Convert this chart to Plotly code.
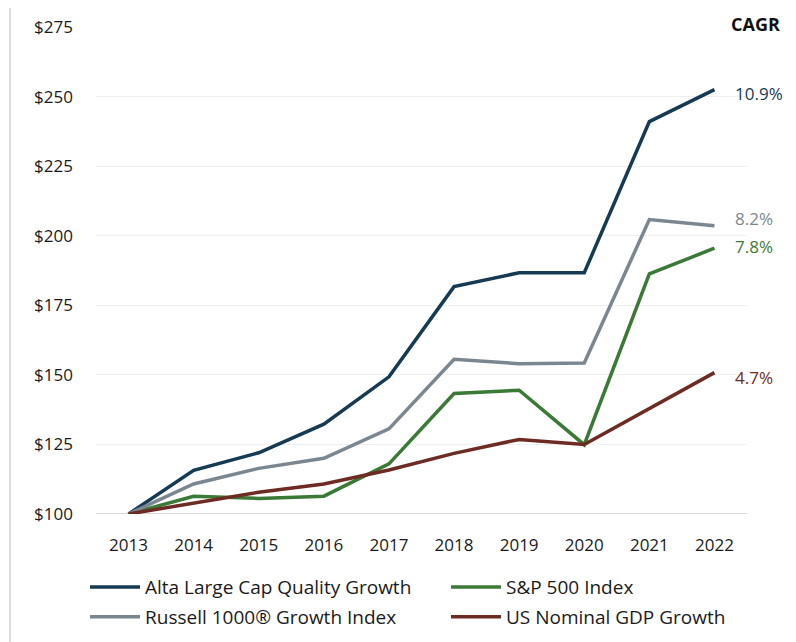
import plotly.graph_objects as go

years = ["2013", "2014", "2015", "2016", "2017", "2018", "2019", "2020", "2021", "2022"]
alta = [100, 115.7, 122.0, 132.3, 149.3, 181.7, 186.7, 186.7, 241.0, 252.5]
russell = [100, 110.8, 116.4, 120.0, 130.6, 155.6, 154.0, 154.3, 205.8, 203.6]
sp500 = [100, 106.4, 105.6, 106.4, 118.0, 143.3, 144.5, 124.9, 186.3, 195.5]
gdp = [100, 104.0, 107.8, 110.8, 115.8, 121.8, 126.8, 125.0, 137.8, 150.8]
cagr_labels = ["10.9%", "8.2%", "7.8%", "4.7%"]
y_ticks = [100, 125, 150, 175, 200, 225, 250, 275]
y_tick_text = ["$100", "$125", "$150", "$175", "$200", "$225", "$250", "$275"]

names = ["Alta Large Cap Quality Growth", "S&P 500 Index",
         "Russell 1000® Growth Index", "US Nominal GDP Growth"]
series = [alta, sp500, russell, gdp]
colors = ["#153a52", "#3b7a36", "#7b8790", "#6e2b23"]
legend_ids = ["legend", "legend2", "legend3", "legend4"]
label_series = [0, 2, 1, 3]      # series index for each CAGR label
label_yshift = [-4, 7, 2, -5]    # small offsets so labels don't collide

FONT = "Open Sans"
fig = go.Figure()
for name, vals, col, lg in zip(names, series, colors, legend_ids):
    fig.add_trace(go.Scatter(x=years, y=vals, mode="lines", name=name,
                             line=dict(color=col, width=3.5),
                             cliponaxis=False, legend=lg))

for lab, idx, ys in zip(cagr_labels, label_series, label_yshift):
    vals = series[idx]
    fig.add_annotation(xref="x", yref="y", x=len(years) - 1, y=vals[-1], text=lab,
                       showarrow=False, xanchor="left", yanchor="middle",
                       xshift=19, yshift=ys,
                       font=dict(family=FONT, size=17, color=colors[idx]))

fig.add_annotation(x=1.0125, y=1.0, xref="paper", yref="paper", text="<b>CAGR</b>",
                   showarrow=False, xanchor="center", yanchor="middle", yshift=3,
                   font=dict(family=FONT, size=18, color="#111111"))

# card edges
fig.add_shape(type="line", xref="paper", yref="paper", x0=-0.132, x1=-0.132, y0=-0.3, y1=1.06,
              line=dict(color="#dcdcdc", width=2))
fig.add_shape(type="line", xref="paper", yref="paper", x0=1.072, x1=1.072, y0=-0.3, y1=1.06,
              line=dict(color="#e6e6e6", width=2))
fig.add_shape(type="line", xref="paper", yref="y", x0=0, x1=1, y0=100, y1=100,
              line=dict(color="#d9d9d9", width=2), layer="below")

legend_common = dict(orientation="h", xanchor="left", yanchor="middle", itemwidth=50,
                     font=dict(family=FONT, size=19, color="#1a1a1a"),
                     bgcolor="rgba(0,0,0,0)")

fig.update_layout(
    width=796, height=642,
    margin=dict(l=88, r=57, t=19, b=136),
    paper_bgcolor="white", plot_bgcolor="white",
    font=dict(family=FONT, size=17, color="#1a1a1a"),
    showlegend=True,
    legend=dict(x=-0.0169, y=-0.150, **legend_common),
    legend2=dict(x=0.5376, y=-0.150, **legend_common),
    legend3=dict(x=-0.0169, y=-0.2115, **legend_common),
    legend4=dict(x=0.5376, y=-0.2115, **legend_common),
    xaxis=dict(type="category", range=[-0.5, 9.5], showgrid=False, zeroline=False,
               showline=False, ticks="", tickfont=dict(size=17), ticklabelstandoff=19,
               automargin=False),
    yaxis=dict(range=[100, 275], tickvals=y_ticks, ticktext=y_tick_text,
               showgrid=True, gridcolor="#f0f0f0", gridwidth=1, zeroline=False,
               showline=False, ticks="", tickfont=dict(size=17), ticklabelstandoff=22,
               automargin=False),
)

fig.write_html("out.html")
